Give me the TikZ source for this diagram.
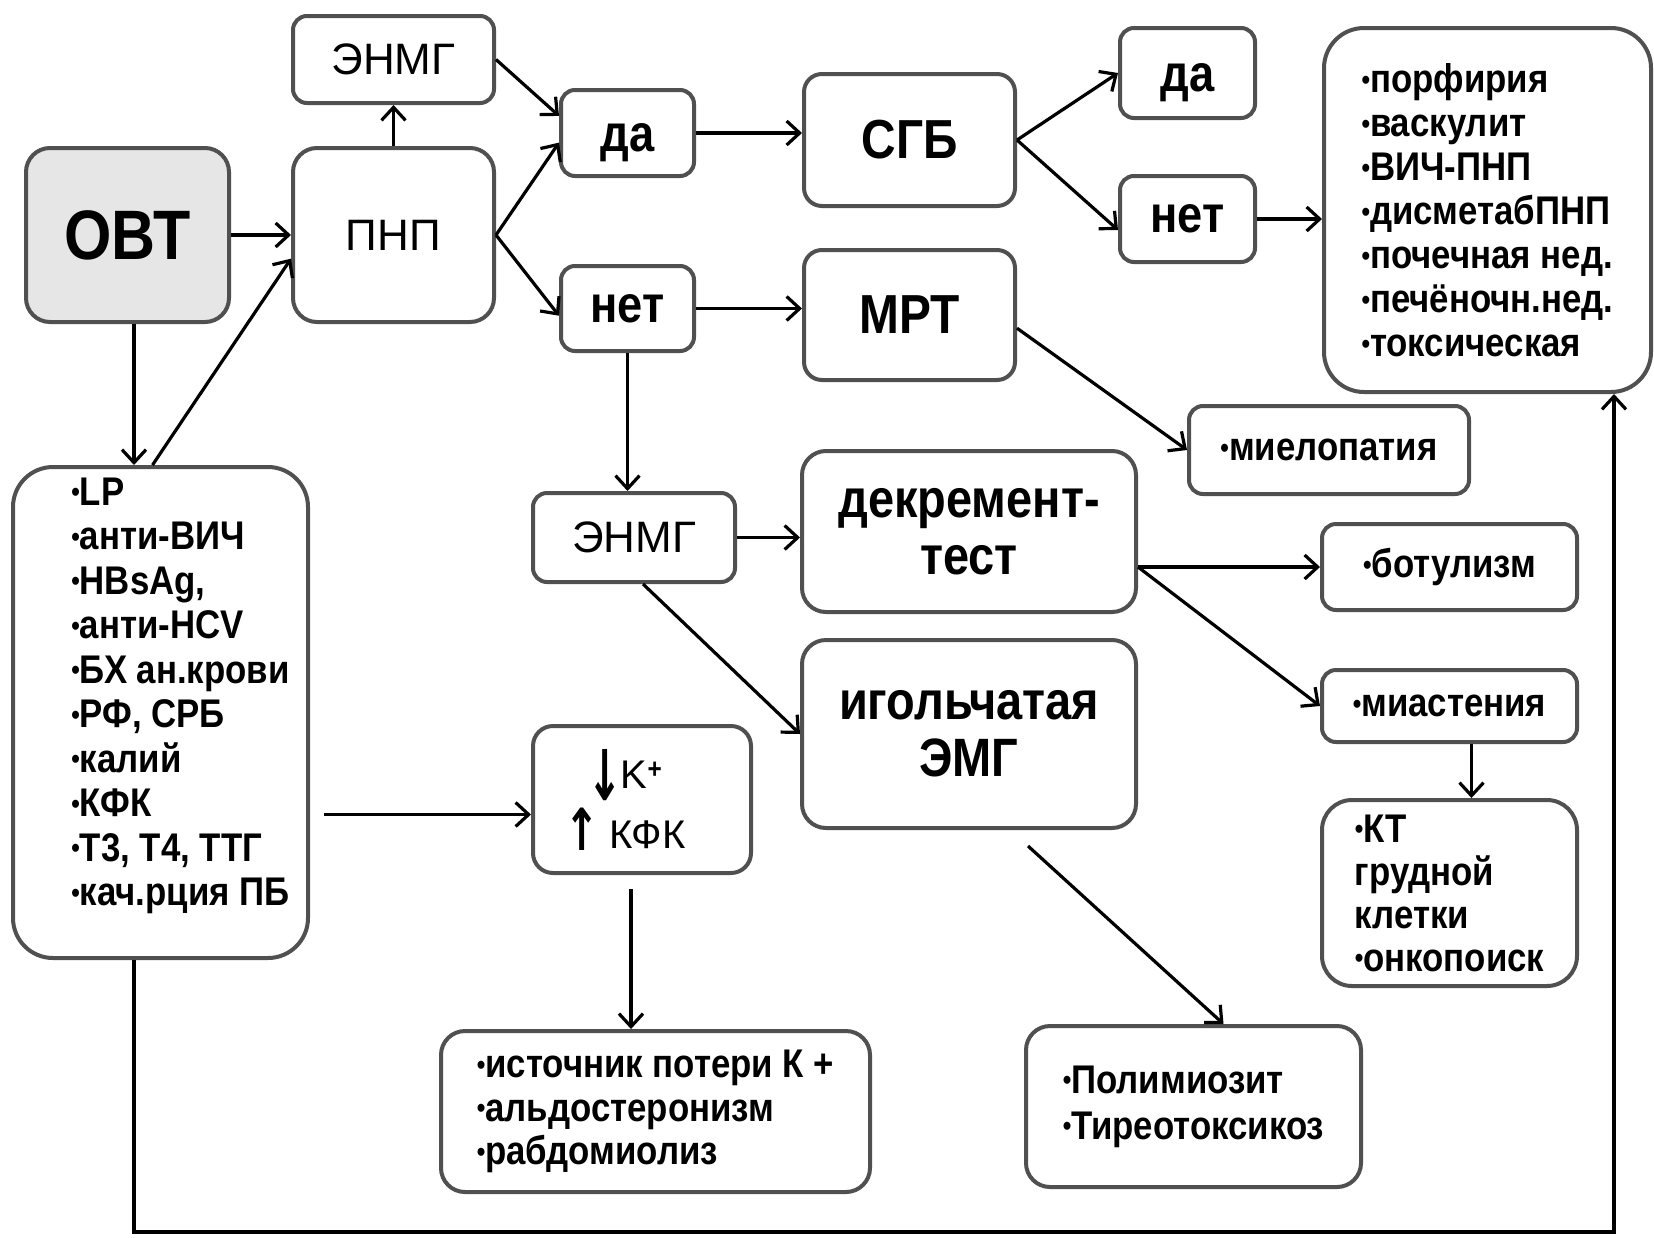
\documentclass[tikz,border=0pt]{standalone}
\usepackage{fontspec}
\setmainfont{Liberation Sans}[BoldFeatures={FakeStretch=0.87}]
\newfontfamily\arrowfont{DejaVu Sans}
\usetikzlibrary{arrows.meta}
\definecolor{frame}{HTML}{505050}
\definecolor{shade}{HTML}{E6E6E6}
\newcommand{\bul}{\raisebox{0.08em}{\scalebox{0.7}{•}}}
\newcommand{\fsz}[2]{\fontsize{#1}{#2}\selectfont}
\newcommand{\low}[1]{\raisebox{-10pt}[\height][\depth]{#1}}
\newcommand{\kdown}{\raisebox{-12pt}{\scalebox{1.05}[1.75]{\arrowfont\bfseries ↓}}}
\newcommand{\kup}{\raisebox{-2pt}{\scalebox{1.05}[1.45]{\arrowfont\bfseries ↑}}}
\begin{document}
\begin{tikzpicture}[x=1pt,y=-1pt,
    box/.style={draw=frame,line width=4pt,fill=white,rounded corners=14pt,
      inner sep=0pt,align=center,font=\bfseries\fsz{40}{44}},
    midbox/.style={box,rounded corners=24pt},
    bigbox/.style={box,rounded corners=40pt},
    arr/.style={-{Straight Barb[length=13pt,width=24pt]},line width=3.2pt}]
  \useasboundingbox (0,0) rectangle (1654,1237);
  \node[midbox,fill=shade,minimum width=203,minimum height=174,font=\bfseries\fsz{70}{80}] (ovt) at (127.5,235) {ОВТ};
  \node[midbox,minimum width=201,minimum height=174,font=\fsz{44}{48}] (pnp) at (393.5,235) {ПНП};
  \node[box,minimum width=201,minimum height=87,font=\fsz{44}{48}] (enmgA) at (393.5,59.5) {ЭНМГ};
  \node[box,minimum width=133,minimum height=86,font=\bfseries\fsz{52}{56}] (daA) at (627.5,133) {\low{да}};
  \node[box,minimum width=133,minimum height=85,font=\bfseries\fsz{52}{56}] (netA) at (627.5,308.5) {нет};
  \node[box,rounded corners=18pt,minimum width=211,minimum height=132,font=\bfseries\fsz{55}{60}] (sgb) at (909.5,140) {СГБ};
  \node[box,rounded corners=18pt,minimum width=211,minimum height=130,font=\bfseries\fsz{55}{60}] (mrt) at (909.5,315) {МРТ};
  \node[box,minimum width=135,minimum height=90,font=\bfseries\fsz{52}{56}] (daB) at (1187.5,73) {\low{да}};
  \node[box,minimum width=135,minimum height=86,font=\bfseries\fsz{52}{56}] (netB) at (1187.5,219) {нет};
  \node[bigbox,minimum width=327,minimum height=364,align=left] (causes) at (1487.5,210)
    {\bul порфирия\\\bul васкулит\\\bul ВИЧ-ПНП\\\bul дисметабПНП\\\bul почечная нед.\\\bul печёночн.нед.\\\bul токсическая};
  \node[box,minimum width=280,minimum height=88] (myelo) at (1329,450) {\bul миелопатия};
  \node[bigbox,minimum width=295,minimum height=491,font=\bfseries\fsz{40}{44.5}] (labs) at (160.5,712.5)
    {\begin{tabular}{@{\hspace{40pt}}l@{}}
      \bul LP\\\bul анти-ВИЧ\\\bul HBsAg,\\\bul анти-HCV\\\bul БХ ан.крови\\\bul РФ, СРБ\\
      \bul калий\\\bul КФК\\\bul Т3, Т4, ТТГ\\\bul кач.рция ПБ\\[32pt]
    \end{tabular}};
  \node[box,minimum width=202,minimum height=89,font=\fsz{44}{48}] (enmgB) at (634,537.5) {ЭНМГ};
  \node[midbox,minimum width=334,minimum height=161,font=\bfseries\fsz{54}{57}] (decr) at (969,531.5) {декремент-\\тест};
  \node[midbox,minimum width=334,minimum height=188,font=\bfseries\fsz{54}{57}] (needle) at (969,734) {игольчатая\\ЭМГ};
  \node[box,minimum width=255,minimum height=86] (botul) at (1449.5,567) {\bul ботулизм};
  \node[box,minimum width=255,minimum height=72] (myast) at (1449.5,706) {\bul миастения};
  \node[box,rounded corners=30pt,minimum width=255,minimum height=186,align=left,font=\bfseries\fsz{40}{43}] (ct) at (1449.5,893)
    {\bul КТ\\грудной\\клетки\\\bul онкопоиск};
  \node[box,rounded corners=20pt,minimum width=218,minimum height=147,font=\fsz{40}{60}] (kbox) at (642,799.5)
    {\kdown\kern-2pt K\textsuperscript{\bfseries +}\hspace*{34pt}\\\kup\hspace{10pt}КФК\hspace*{34pt}};
  \node[midbox,minimum width=429,minimum height=161,align=left,font=\bfseries\fsz{40}{43.5}] (kloss) at (655.5,1111.5)
    {\bul источник потери К +\\\bul альдостеронизм\\\bul рабдомиолиз};
  \node[midbox,minimum width=335,minimum height=161,align=left,font=\bfseries\fsz{40}{46}] (polym) at (1193.5,1106.5)
    {\bul Полимиозит\\\bul Тиреотоксикоз};
  \coordinate (ovtdown) at ([xshift=6.5pt]ovt.south);
  \coordinate (kin) at ([yshift=-15pt]kbox.west);
  \coordinate (kout) at (631,889);
  \coordinate (split) at (decr.east |- botul);
  \coordinate (fb) at (1614,1232);
  \begin{scope}[arr]
    \draw (ovt) to (pnp);
    \draw (pnp) to (enmgA);
    \draw (enmgA.east) to (daA.166);
    \draw (pnp.east) to (daA.188);
    \draw (pnp.east) to (netA.186);
    \draw (daA) to (sgb.west |- daA);
    \draw (netA) to (mrt.west |- netA);
    \draw (sgb.east) to (daB.west);
    \draw (sgb.east) to (netB.189);
    \draw (netB) to (causes.west |- netB);
    \draw (mrt.-7) to (myelo.west);
    \draw (netA) to (enmgB.north -| netA);
    \draw (enmgB) to (decr.west |- enmgB);
    \draw ([xshift=9pt]enmgB.south) to (needle.west);
    \draw (split) to (botul.west);
    \draw (split) to (myast.west);
    \draw ([xshift=22pt]myast.south) to ([xshift=22pt]ct.north);
    \draw (ovtdown) to (ovtdown |- labs.north);
    \draw ([xshift=-8pt]labs.north) to (pnp.193);
    \draw (labs.east |- kin) ++(14,0) to (kin);
    \draw (kout) to (kout |- kloss.north);
    \draw (needle.south) ++(59,16) to ([xshift=30pt]polym.north);
    \draw (ovtdown |- labs.south) |- (fb) to (causes.south -| fb);
  \end{scope}
\end{tikzpicture}
\end{document}
